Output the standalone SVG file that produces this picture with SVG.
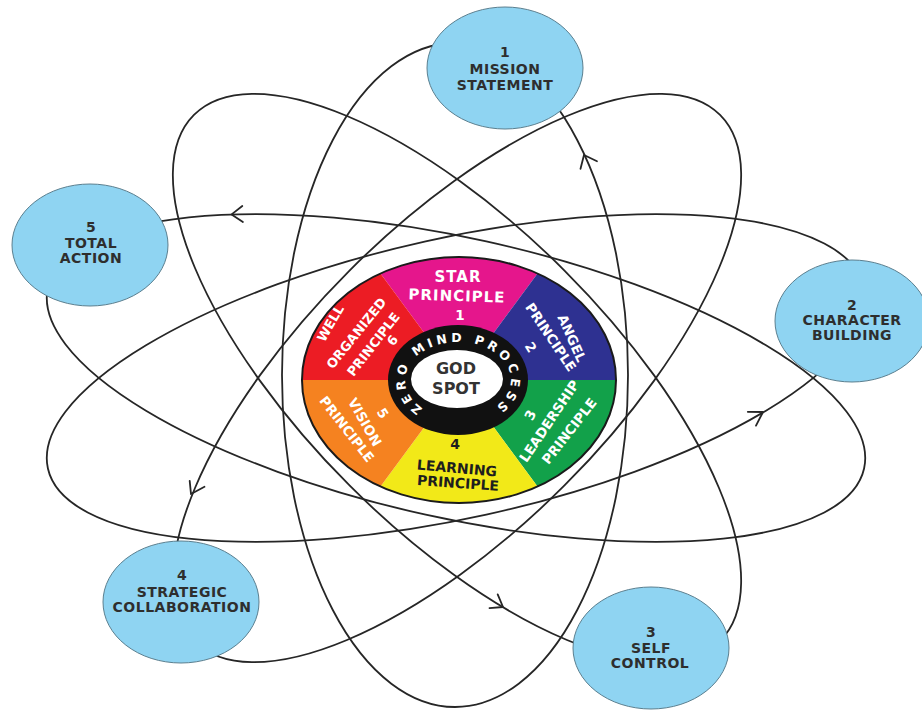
<svg xmlns="http://www.w3.org/2000/svg" width="922" height="711" viewBox="0 0 922 711">
<defs>
<style>
.orb{fill:none;stroke:#262626;stroke-width:1.8}
.arw{fill:none;stroke:#262626;stroke-width:1.8;stroke-linecap:round;stroke-linejoin:round}
.node{fill:#8fd4f2;stroke:#5b7f8f;stroke-width:1}
.nt{font-family:"DejaVu Sans","Liberation Sans",sans-serif;font-weight:bold;font-size:14px;letter-spacing:0.5px;fill:#2e2e2e;text-anchor:middle}
.wt{font-family:"DejaVu Sans","Liberation Sans",sans-serif;font-weight:bold;font-size:13.5px;fill:#ffffff;text-anchor:middle}
.dt{font-family:"DejaVu Sans","Liberation Sans",sans-serif;font-weight:bold;font-size:14px;fill:#1e1e1e;text-anchor:middle}
.ring{font-family:"DejaVu Sans","Liberation Sans",sans-serif;font-weight:bold;font-size:12.5px;fill:#ffffff;letter-spacing:3.8px}
.god{font-family:"DejaVu Sans","Liberation Sans",sans-serif;font-weight:bold;font-size:16px;fill:#333333;text-anchor:middle}
</style>
<path id="ringPath" d="M423.93,409.11 A53,38 0 1 1 492.07,409.11"/>
</defs>
<rect width="922" height="711" fill="#ffffff"/>

<g id="orbits">
<ellipse class="orb" cx="455" cy="375" rx="173" ry="332"/>
<ellipse class="orb" cx="0" cy="0" rx="372" ry="152" transform="translate(457,378) rotate(45)"/>
<ellipse class="orb" cx="0" cy="0" rx="372" ry="152" transform="translate(457,378) rotate(-45)"/>
<ellipse class="orb" cx="0" cy="0" rx="418" ry="140" transform="translate(456,378) rotate(-12.5)"/>
<ellipse class="orb" cx="0" cy="0" rx="418" ry="140" transform="translate(456,378) rotate(12.5)"/>
<path class="arw" d="M597,161.2 L584,155 L580.5,168.8"/>
<path class="arw" d="M242.3,206 L231.6,214.4 L242.9,222"/>
<path class="arw" d="M204.5,486.8 L191,494 L189.7,480.8"/>
<path class="arw" d="M489.5,608.2 L503,607 L497.7,594.4"/>
<path class="arw" d="M756,425.6 L763,412 L747.8,411.8"/>
</g>

<g id="wheel">
<path id="sector-star" d="M459,380 L380.5,273.5 A157,123 0 0 1 537.5,273.5 Z" fill="#e5168c"/>
<path id="sector-angel" d="M459,380 L537.5,273.5 A157,123 0 0 1 616,380 Z" fill="#2e3191"/>
<path id="sector-leadership" d="M459,380 L616,380 A157,123 0 0 1 537.5,486.5 Z" fill="#12a14a"/>
<path id="sector-learning" d="M459,380 L537.5,486.5 A157,123 0 0 1 380.5,486.5 Z" fill="#f2e918"/>
<path id="sector-vision" d="M459,380 L380.5,486.5 A157,123 0 0 1 302,380 Z" fill="#f58220"/>
<path id="sector-well" d="M459,380 L302,380 A157,123 0 0 1 380.5,273.5 Z" fill="#ec1c24"/>
<ellipse cx="459" cy="380" rx="157" ry="123" fill="none" stroke="#1a1a1a" stroke-width="2"/>
<ellipse cx="458" cy="380" rx="70" ry="55" fill="#111111"/>
<ellipse cx="457" cy="379" rx="46" ry="29" fill="#ffffff"/>
<text class="ring"><textPath href="#ringPath" startOffset="50%" text-anchor="middle">ZERO MIND PROCESS</textPath></text>
<text class="god" x="456" y="374">GOD</text>
<text class="god" x="456" y="394">SPOT</text>

<g id="text-star">
<text class="wt" style="font-size:15px;letter-spacing:1px" x="458" y="282">STAR</text>
<text class="wt" style="font-size:15px;letter-spacing:1px" transform="translate(457,296) rotate(2)" y="5">PRINCIPLE</text>
<text class="wt" x="460" y="320">1</text>
</g>
<g id="text-angel">
<text class="wt" transform="translate(572,338) rotate(66)" y="5">ANGEL</text>
<text class="wt" transform="translate(551,337) rotate(56)" y="5">PRINCIPLE</text>
<text class="wt" transform="translate(531,347) rotate(58)" y="5">2</text>
</g>
<g id="text-leadership">
<text class="wt" transform="translate(530,415) rotate(-62)" y="5">3</text>
<text class="wt" transform="translate(549,421) rotate(-56)" y="5">LEADERSHIP</text>
<text class="wt" transform="translate(569,431) rotate(-52)" y="5">PRINCIPLE</text>
</g>
<g id="text-learning">
<text class="dt" x="455" y="449">4</text>
<text class="dt" transform="translate(457,468) rotate(5)" y="5">LEARNING</text>
<text class="dt" transform="translate(458,483) rotate(4)" y="5">PRINCIPLE</text>
</g>
<g id="text-vision">
<text class="wt" transform="translate(383,413) rotate(58)" y="5">5</text>
<text class="wt" transform="translate(365,422) rotate(60)" y="5">VISION</text>
<text class="wt" transform="translate(347,429) rotate(52)" y="5">PRINCIPLE</text>
</g>
<g id="text-well">
<text class="wt" style="font-size:13px" transform="translate(330,323) rotate(-60)" y="5">WELL</text>
<text class="wt" style="font-size:13px" transform="translate(356,333) rotate(-51)" y="5">ORGANIZED</text>
<text class="wt" style="font-size:13px" transform="translate(373,344) rotate(-52)" y="5">PRINCIPLE</text>
<text class="wt" style="font-size:13px" transform="translate(392,340) rotate(-52)" y="5">6</text>
</g>
</g>

<g id="node-1">
<ellipse class="node" cx="505" cy="68" rx="78" ry="61"/>
<text class="nt" x="505" y="57">1</text>
<text class="nt" x="505" y="74">MISSION</text>
<text class="nt" x="505" y="90">STATEMENT</text>
</g>
<g id="node-2">
<ellipse class="node" cx="852" cy="321" rx="77" ry="61"/>
<text class="nt" x="852" y="310">2</text>
<text class="nt" x="852" y="325">CHARACTER</text>
<text class="nt" x="852" y="340">BUILDING</text>
</g>
<g id="node-3">
<ellipse class="node" cx="651" cy="648" rx="78" ry="61"/>
<text class="nt" x="651" y="637">3</text>
<text class="nt" x="651" y="653">SELF</text>
<text class="nt" x="650" y="668">CONTROL</text>
</g>
<g id="node-4">
<ellipse class="node" cx="181" cy="602" rx="78" ry="61"/>
<text class="nt" x="182" y="580">4</text>
<text class="nt" x="182" y="597">STRATEGIC</text>
<text class="nt" x="182" y="612">COLLABORATION</text>
</g>
<g id="node-5">
<ellipse class="node" cx="90" cy="245" rx="78" ry="61"/>
<text class="nt" x="91" y="232">5</text>
<text class="nt" x="91" y="248">TOTAL</text>
<text class="nt" x="91" y="263">ACTION</text>
</g>
</svg>
